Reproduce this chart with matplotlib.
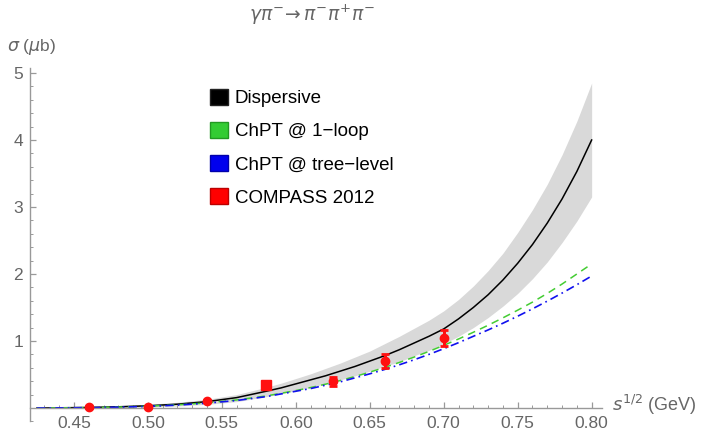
import matplotlib
matplotlib.use("Agg")
import matplotlib.pyplot as plt
from matplotlib.patches import Patch

plt.rcParams["font.family"] = ["Liberation Sans", "DejaVu Sans"]
plt.rcParams["mathtext.fontset"] = "dejavusans"

# curves
s_grid = [0.425, 0.44, 0.46, 0.48, 0.50, 0.52, 0.54, 0.56, 0.58, 0.59,
          0.60, 0.61, 0.62, 0.63, 0.64, 0.65, 0.66, 0.67, 0.68, 0.69,
          0.70, 0.71, 0.72, 0.73, 0.74, 0.75, 0.76, 0.77, 0.78, 0.79, 0.80]
disp = [0.0, 0.003, 0.008, 0.018, 0.033, 0.057, 0.095, 0.155, 0.25, 0.30,
        0.36, 0.42, 0.48, 0.55, 0.62, 0.70, 0.78, 0.87, 0.97, 1.07,
        1.18, 1.33, 1.50, 1.69, 1.91, 2.16, 2.44, 2.76, 3.12, 3.53, 4.00]
disp_hi = [0.005, 0.01, 0.02, 0.035, 0.055, 0.085, 0.13, 0.20, 0.31, 0.37,
           0.44, 0.51, 0.59, 0.67, 0.76, 0.85, 0.96, 1.07, 1.19, 1.31,
           1.45, 1.62, 1.82, 2.05, 2.31, 2.62, 2.96, 3.34, 3.78, 4.28, 4.85]
disp_lo = [0.0, 0.0, 0.0, 0.005, 0.015, 0.03, 0.055, 0.095, 0.17, 0.21,
           0.26, 0.31, 0.36, 0.42, 0.48, 0.55, 0.62, 0.69, 0.78, 0.86,
           0.96, 1.07, 1.20, 1.35, 1.52, 1.71, 1.93, 2.18, 2.47, 2.79, 3.15]
chpt_1loop = [0.0, 0.002, 0.006, 0.014, 0.027, 0.047, 0.077, 0.12, 0.18, 0.22,
              0.26, 0.305, 0.355, 0.41, 0.47, 0.535, 0.605, 0.68, 0.76, 0.845,
              0.935, 1.03, 1.13, 1.235, 1.345, 1.46, 1.58, 1.71, 1.85, 2.00, 2.15]
chpt_tree = [0.0, 0.002, 0.005, 0.012, 0.024, 0.043, 0.072, 0.112, 0.17, 0.21,
             0.25, 0.29, 0.34, 0.39, 0.45, 0.51, 0.575, 0.645, 0.72, 0.80,
             0.885, 0.975, 1.07, 1.165, 1.265, 1.37, 1.48, 1.595, 1.715, 1.84, 1.97]

# COMPASS 2012 points
compass_s = [0.46, 0.50, 0.54, 0.625, 0.66, 0.70]
compass_sig = [0.015, 0.02, 0.10, 0.40, 0.70, 1.04]
compass_err = [0.01, 0.01, 0.015, 0.07, 0.10, 0.12]
sq_s = [0.58]
sq_sig = [0.35]
sq_err = [0.03]

grey = "#666666"
fig = plt.figure(figsize=(7.01, 4.32), dpi=100)
ax = fig.add_axes([30 / 701, 1 - 421.4 / 432, (601.7 - 30) / 701, (421.4 - 68.3) / 432])

ax.fill_between(s_grid, disp_lo, disp_hi, color="#d9d9d9", lw=0)
ax.plot(s_grid, disp, color="black", lw=1.1)
ax.plot(s_grid, chpt_1loop, color="#44cc33", lw=1.1, ls=(0, (5, 3.5)))
ax.plot(s_grid, chpt_tree, color="#1010ee", lw=1.2, ls=(0, (5, 2.5, 1, 2.5)))

ax.errorbar(compass_s, compass_sig, yerr=compass_err, fmt="o", color="#ff1010",
            ms=6, elinewidth=2.2, capsize=3, capthick=2, zorder=5)
ax.errorbar(sq_s, sq_sig, yerr=sq_err, fmt="s", color="#ff1010",
            ms=7.5, elinewidth=2.2, capsize=3, capthick=2, zorder=5)

ax.set_xlim(0.4203, 0.8068)
ax.set_ylim(-0.2, 5.07)
ax.spines["top"].set_visible(False)
ax.spines["right"].set_visible(False)
ax.spines["bottom"].set_position(("data", 0))
for sp in ("left", "bottom"):
    ax.spines[sp].set_color("#999999")
    ax.spines[sp].set_linewidth(1.0)

ax.set_xticks([0.45, 0.50, 0.55, 0.60, 0.65, 0.70, 0.75, 0.80])
ax.set_xticklabels(["0.45", "0.50", "0.55", "0.60", "0.65", "0.70", "0.75", "0.80"])
ax.set_xticks([0.43 + 0.01 * i for i in range(38)], minor=True)
ax.set_yticks([1, 2, 3, 4, 5])
ax.set_yticks([0.2 * i for i in range(-1, 26)], minor=True)
ax.tick_params(which="both", direction="in", color="#999999", labelcolor=grey,
               labelsize=12.5)
ax.tick_params(which="major", length=4.5, width=0.9)
ax.tick_params(which="minor", length=2.5, width=0.7)
ax.tick_params(axis="x", pad=6)
ax.tick_params(axis="y", pad=5)

handles = [Patch(facecolor="black", edgecolor="#222222"),
           Patch(facecolor="#33cc33", edgecolor="#229922"),
           Patch(facecolor="#0000ee", edgecolor="#0000aa"),
           Patch(facecolor="#ff0000", edgecolor="#bb0000")]
labels = ["Dispersive", "ChPT @ 1\u2212loop", "ChPT @ tree\u2212level", "COMPASS 2012"]
ax.legend(handles, labels, loc="upper left", bbox_to_anchor=(0.302, 0.964),
          frameon=False, fontsize=13.5, handlelength=0.95, handleheight=0.95,
          handletextpad=0.35, labelspacing=0.78, borderaxespad=0.0)

fig.text(312 / 701, 1 - 15 / 432, r"$\gamma\pi^{-}\!\rightarrow\pi^{-}\pi^{+}\pi^{-}$",
         color=grey, fontsize=13.5, ha="center", va="center")
fig.text(7 / 701, 1 - 47 / 432, r"$\sigma$ ($\mu$b)", color=grey, fontsize=12.5,
         ha="left", va="center")
fig.text(612 / 701, 1 - 405 / 432, r"$s^{1/2}$ (GeV)", color=grey, fontsize=13,
         ha="left", va="center")

fig.savefig("out.png", dpi=100)
